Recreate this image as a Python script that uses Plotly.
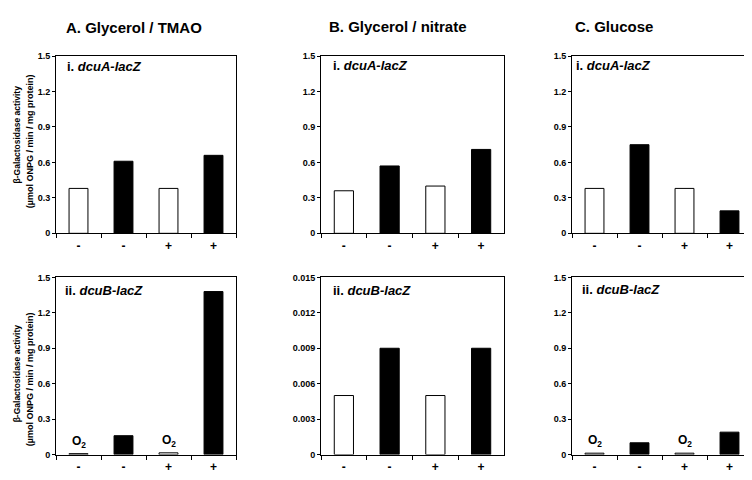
import plotly.graph_objects as go

# ---------------- data ----------------
categories = ["aerobic -", "anaerobic -", "aerobic +", "anaerobic +"]
tick_labels = ["-", "-", "+", "+"]

A_dcuA = [0.38, 0.61, 0.38, 0.66]
A_dcuB = [0.008, 0.16, 0.015, 1.38]
B_dcuA = [0.36, 0.57, 0.40, 0.71]
B_dcuB = [0.005, 0.009, 0.005, 0.009]
C_dcuA = [0.38, 0.75, 0.38, 0.19]
C_dcuB = [0.012, 0.10, 0.012, 0.19]

column_titles = ["A. Glycerol / TMAO", "B. Glycerol / nitrate", "C. Glucose"]
panel_labels = ["i. <i>dcuA-lacZ</i>", "ii. <i>dcuB-lacZ</i>"]
y_ranges = {"A_dcuA": 1.5, "A_dcuB": 1.5, "B_dcuA": 1.5, "B_dcuB": 0.015,
            "C_dcuA": 1.5, "C_dcuB": 1.5}
y_dticks = {"A_dcuA": 0.3, "A_dcuB": 0.3, "B_dcuA": 0.3, "B_dcuB": 0.003,
            "C_dcuA": 0.3, "C_dcuB": 0.3}
o2_panels = ["A_dcuB", "C_dcuB"]
o2_bars = [0, 2]

# ---------------- layout geometry (pixels) ----------------
W, H = 752, 480
FONT = "Liberation Sans, Arial, sans-serif"
col_px = [(48, 228), (313, 496), (564, 744)]
row_px = [(44, 225), (270, 451)]  # top, bottom in pixel rows
bar_colors = ["white", "black", "white", "black"]

panels = [
    ("A_dcuA", A_dcuA, 0, 0), ("A_dcuB", A_dcuB, 0, 1),
    ("B_dcuA", B_dcuA, 1, 0), ("B_dcuB", B_dcuB, 1, 1),
    ("C_dcuA", C_dcuA, 2, 0), ("C_dcuB", C_dcuB, 2, 1),
]

fig = go.Figure()
annotations = []

for idx, (name, vals, col, row) in enumerate(panels):
    n = idx + 1
    xa = "x" if n == 1 else f"x{n}"
    ya = "y" if n == 1 else f"y{n}"
    fig.add_trace(go.Bar(
        x=categories, y=vals, xaxis=xa, yaxis=ya, width=0.42,
        marker=dict(color=bar_colors, line=dict(color="black", width=1)),
        showlegend=False, hoverinfo="skip"))
    x0, x1 = col_px[col]
    t, b = row_px[row]
    axis_common = dict(showline=True, linecolor="black", linewidth=1, mirror=True,
                       showgrid=False, zeroline=False)
    fig.layout[f"xaxis{'' if n == 1 else n}"] = dict(
        domain=[x0 / W, x1 / W], anchor=ya, type="category",
        categoryorder="array", categoryarray=categories,
        tickmode="array", tickvals=categories, ticktext=tick_labels,
        tickson="boundaries", ticks="outside", ticklen=4, tickcolor="black",
        ticklabelstandoff=1,
        tickfont=dict(family=FONT, size=12, color="black", weight="bold"),
        **axis_common)
    fig.layout[f"yaxis{'' if n == 1 else n}"] = dict(
        domain=[1 - b / H, 1 - t / H], anchor=xa,
        range=[0, y_ranges[name]], tick0=0, dtick=y_dticks[name],
        ticks="outside", ticklen=3, tickcolor="black",
        tickfont=dict(family=FONT, size=9, color="black", weight="bold"),
        **axis_common)
    # panel label
    lab_pos = {"A_dcuA": (57, 55), "A_dcuB": (55, 283), "B_dcuA": (323, 54),
               "B_dcuB": (323, 283), "C_dcuA": (566, 54), "C_dcuB": (572, 282)}[name]
    annotations.append(dict(
        text=f"<b>{panel_labels[row]}</b>", xref="paper", yref="paper",
        x=lab_pos[0] / W, y=1 - lab_pos[1] / H, xanchor="left", yanchor="middle",
        showarrow=False, font=dict(family=FONT, size=13, color="black")))
    if name in o2_panels:
        for bi in o2_bars:
            annotations.append(dict(
                text="<b>O<sub>2</sub></b>", xref=xa, yref=ya,
                x=categories[bi], y=vals[bi], xanchor="center", yanchor="bottom",
                yshift=2, showarrow=False,
                font=dict(family=FONT, size=12, color="black")))

# column titles
title_pos = [(126, 15), (390, 14), (606, 14)]
for txt, (cx, cy) in zip(column_titles, title_pos):
    annotations.append(dict(
        text=f"<b>{txt}</b>", xref="paper", yref="paper",
        x=cx / W, y=1 - cy / H, xanchor="center", yanchor="middle",
        showarrow=False, font=dict(family=FONT, size=15, color="black")))

# y axis titles (left column only)
for (l1y, l2y) in [(124, 131), (368, 374)]:
    annotations.append(dict(
        text="<b>β-Galactosidase activity</b>", xref="paper", yref="paper",
        x=9 / W, y=1 - l1y / H, xanchor="center", yanchor="middle", textangle=-90,
        showarrow=False, font=dict(family=FONT, size=8.5, color="black")))
    annotations.append(dict(
        text="<b>(µmol ONPG / min / mg protein)</b>", xref="paper", yref="paper",
        x=22 / W, y=1 - l2y / H, xanchor="center", yanchor="middle", textangle=-90,
        showarrow=False, font=dict(family=FONT, size=9, color="black")))

fig.update_layout(
    width=W, height=H, margin=dict(l=0, r=0, t=0, b=0),
    paper_bgcolor="white", plot_bgcolor="white",
    annotations=annotations, bargap=0.58)

fig.write_html("out.html")
